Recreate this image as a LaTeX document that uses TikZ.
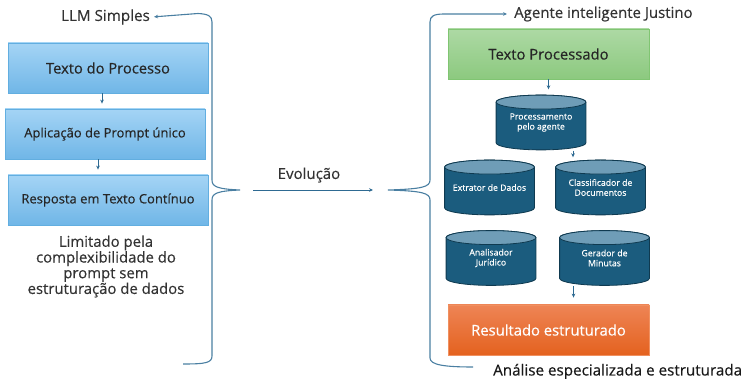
\documentclass[tikz,border=0pt]{standalone}
\usepackage{fontspec}
\setmainfont{Open Sans}[FakeBold=0.4]
\usetikzlibrary{arrows.meta,calc}
\definecolor{bracecol}{HTML}{4A7FA2}
\definecolor{arrcol}{HTML}{2E6A92}
\definecolor{txtcol}{HTML}{333333}
\definecolor{ltop}{HTML}{A4D4F5}
\definecolor{lbot}{HTML}{70B6E7}
\definecolor{lline}{HTML}{62AEE0}
\definecolor{gtop}{HTML}{ADD9A4}
\definecolor{gbot}{HTML}{8CC97F}
\definecolor{gline}{HTML}{80C572}
\definecolor{otop}{HTML}{EE8455}
\definecolor{obot}{HTML}{E4621F}
\definecolor{oline}{HTML}{F09060}
\definecolor{cylbody}{HTML}{1B5C7E}
\definecolor{cyltop}{HTML}{6F9DB7}
\definecolor{cylline}{HTML}{0F3A50}
\begin{document}
\begin{tikzpicture}[x=1pt,y=1pt,
  lbl/.style={text=txtcol, font=\fontsize{15}{15.7}\selectfont, inner sep=2pt},
  lbox/.style={draw=lline, line width=0.8pt, top color=ltop, bottom color=lbot,
    minimum width=200pt, minimum height=50pt, inner sep=0pt, text=black!85,
    font=\fontsize{13}{15}\selectfont},
  gbox/.style={draw=gline, line width=0.8pt, top color=gtop, bottom color=gbot,
    minimum width=201pt, minimum height=50pt, inner sep=0pt, text=black!85,
    font=\fontsize{14.8}{16}\selectfont},
  obox/.style={draw=oline, line width=0.8pt, top color=otop, bottom color=obot,
    minimum width=201pt, minimum height=50pt, inner sep=0pt, text=white,
    font=\fontsize{14.8}{16}\selectfont},
  cyl/.style={minimum width=91pt, minimum height=56pt, inner sep=0pt, text=white,
    align=center, font=\fontsize{8.7}{10}\selectfont,
    path picture={
      \draw[draw=cylline, fill=cylbody, line width=0.8pt]
        let \p1=(path picture bounding box.south west),
            \p2=(path picture bounding box.north east),
            \n1={(\x2-\x1)/2-0.6pt} in
        ({\x1+0.6pt},{\y2-7.6pt}) -- ({\x1+0.6pt},{\y1+7.6pt})
        arc[start angle=180,end angle=360,x radius=\n1,y radius=7pt]
        -- ({\x2-0.6pt},{\y2-7.6pt})
        arc[start angle=0,end angle=180,x radius=\n1,y radius=7pt] -- cycle;
      \draw[draw=cylline, fill=cyltop, line width=0.8pt]
        let \p1=(path picture bounding box.south west),
            \p2=(path picture bounding box.north east),
            \n1={(\x2-\x1)/2-0.6pt} in
        ({(\x1+\x2)/2},{\y2-7.6pt}) ellipse[x radius=\n1,y radius=7pt];
    }},
  brace/.style={draw=bracecol, line width=1.1pt},
  arr/.style={draw=arrcol, line width=0.9pt, -{Stealth[length=4pt,width=3.6pt]}}
]
\useasboundingbox (0,0) rectangle (742,-379);

% left column
\node[lbl, font=\fontsize{15.2}{16}\selectfont] (llm) at (105.5,-17) {LLM Simples};
\node[lbox, font=\fontsize{14.7}{16}\selectfont] (b1) at (108,-68) {Texto do Processo};
\node[lbox] (b2) at (105,-134) {Aplicação de Prompt único};
\node[lbox] (b3) at (108,-200) {Resposta em Texto Contínuo};
\node[lbl, align=center, font=\fontsize{14.9}{15.7}\selectfont] (lim) at (106,-266.5)
  {Limitado pela\\complexibilidade do\\prompt sem\\estruturação de dados};

\draw[arr, shorten >=5pt] ([xshift=-6pt]b1.south) -- ([xshift=-6pt]b1.south |- b2.north);
\draw[arr, shorten >=5pt] ([xshift=-7pt]b2.south) -- ([xshift=-7pt]b2.south |- b3.north);

% left brace
\coordinate (ltip) at (240,-190);
\coordinate (lend) at (183,-364);
\draw[brace, -{Stealth[length=4pt,width=3.6pt]}, shorten >=2pt]
  (lend) .. controls (205,-364) and (212,-363) .. (212,-356)
  -- (212,-200) .. controls (212,-193) and (218,-191) .. (ltip)
  .. controls (218,-189) and (212,-187) .. (212,-180)
  -- (212,-22) .. controls (212,-16) and (208,-14) .. (198,-13.5)
  -- (llm.east);

% right brace
\coordinate (rtip) at (388,-190);
\coordinate (rend) at (473,-367);
\node[lbl, anchor=west] (ag) at (512,-14) {Agente inteligente Justino};
\draw[brace, -{Stealth[length=4pt,width=3.6pt]}, shorten >=5pt]
  (rend) .. controls (445,-367) and (430,-365) .. (430,-358)
  -- (430,-200) .. controls (430,-193) and (422,-191) .. (rtip)
  .. controls (422,-189) and (430,-187) .. (430,-180)
  -- (430,-22) .. controls (430,-16) and (434,-14) .. (444,-14)
  -- (ag.west);

% evolution arrow
\draw[arr, shorten <=13pt, shorten >=15pt] (ltip) -- (rtip)
  node[midway, above=5pt, lbl, xshift=-5pt] (evo) {Evolução};

% right column
\node[gbox] (tp) at (548.5,-54) {Texto Processado};
\node[cyl] (c1) at (541,-122.5) {Processamento\\pelo agente};
\node[cyl] (c2) at (489.5,-187.5) {Extrator de Dados};
\node[cyl] (c3) at (600.5,-187.5) {Classificador de\\Documentos};
\node[cyl] (c4) at (491,-258) {Analisador\\Jurídico};
\node[cyl] (c5) at (604.5,-258) {Gerador de\\Minutas};
\node[obox] (res) at (548.5,-330) {Resultado estruturado};
\node[lbl, anchor=base west, text=black!90, font=\fontsize{15.2}{16}\selectfont, inner sep=0pt] (an) at (493,-375.5) {Análise especializada e estruturada};

\draw[arr, shorten >=5pt] (tp.south) -- (tp.south |- c1.north);
\draw[arr, shorten >=2pt] ([xshift=32pt]c1.south) -- ([xshift=32pt]c1.south |- c3.north);
\draw[arr, shorten >=7pt] ([xshift=-31pt]c5.south) -- ([xshift=-31pt]c5.south |- res.north);
\end{tikzpicture}
\end{document}
